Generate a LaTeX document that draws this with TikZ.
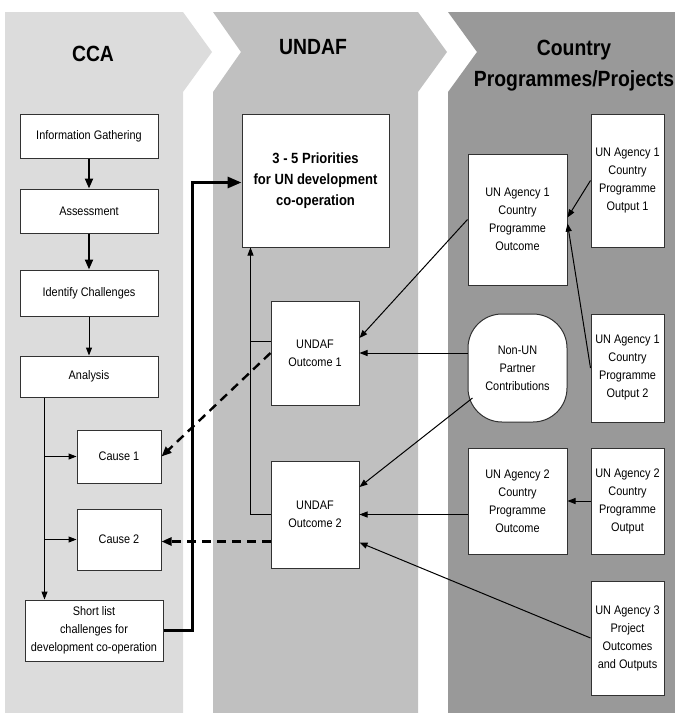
\documentclass[tikz,border=0pt]{standalone}
\usepackage{fontspec}
\setmainfont{Liberation Sans}[FakeStretch=0.88]
\usetikzlibrary{arrows.meta}
\definecolor{ccagray}{RGB}{220,220,220}
\definecolor{undgray}{RGB}{192,192,192}
\definecolor{ctygray}{RGB}{153,153,153}
\definecolor{boxline}{RGB}{50,50,50}
\begin{document}
\begin{tikzpicture}[x=1pt,y=-1pt,
  box/.style={draw=boxline,line width=1pt,fill=white,align=center,inner sep=1pt,
    font=\fontsize{12.4}{18}\selectfont},
  hdr/.style={font=\bfseries\fontsize{22}{31}\selectfont,align=center,inner sep=0pt},
  thinarr/.style={line width=1pt,-{Triangle[length=8pt,width=6pt]}},
  midarr/.style={line width=2pt,-{Triangle[length=10pt,width=8pt]}},
  bigarr/.style={line width=3pt,-{Triangle[length=14pt,width=11pt]}},
  dasharr/.style={line width=2.4pt,dash pattern=on 9pt off 6pt,-{Triangle[length=10pt,width=8pt]}},
  plainline/.style={line width=1pt}]
\useasboundingbox (0,0) rectangle (675,713);
% bands
\fill[ccagray] (5,12) -- (183,12) -- (212,52) -- (183,92) -- (183,713) -- (5,713) -- cycle;
\fill[undgray] (213,12) -- (418,12) -- (447,52) -- (418,92) -- (418,713) -- (213,713) -- (213,92) -- (241,52) -- cycle;
\fill[ctygray] (448,12) -- (675,12) -- (675,713) -- (448,713) -- (448,92) -- (477,52) -- cycle;
% headers
\node[hdr] (hcca) at (93,54) {CCA};
\node[hdr] (hund) at (313,47) {UNDAF};
\node[hdr] (hcty) at (574,66) {Country\\Programmes/Projects};
% CCA column
\node[box,minimum width=138pt,minimum height=44pt] (info) at (89,136) {Information Gathering};
\node[box,minimum width=138pt,minimum height=44pt] (assess) at (89,211) {Assessment};
\node[box,minimum width=138pt,minimum height=46pt] (ident) at (89,293) {Identify Challenges};
\node[box,minimum width=138pt,minimum height=41pt] (analysis) at (89,376.5) {Analysis};
\node[box,minimum width=84pt,minimum height=53pt] (cause1) at (119,456.5) {Cause 1};
\node[box,minimum width=84pt,minimum height=61pt] (cause2) at (119,539.5) {Cause 2};
\node[box,minimum width=138pt,minimum height=61pt] (short) at (94,630.5) {Short list\\challenges for\\development co-operation};
% UNDAF column
\node[box,minimum width=147pt,minimum height=133pt,font=\bfseries\fontsize{14.8}{21}\selectfont] (prio) at (315.5,180.5) {3 - 5 Priorities\\for UN development\\co-operation};
\node[box,minimum width=88pt,minimum height=104pt] (out1) at (315,353) {UNDAF\\Outcome 1};
\node[box,minimum width=88pt,minimum height=107pt] (out2) at (315,514.5) {UNDAF\\Outcome 2};
% Country column
\node[box,minimum width=99pt,minimum height=131pt] (a1out) at (517.5,219.5) {UN Agency 1\\Country\\Programme\\Outcome};
\node[box,minimum width=73pt,minimum height=133pt] (o1) at (627.5,180.5) {UN Agency 1\\Country\\Programme\\Output 1};
\node[box,minimum width=99pt,minimum height=108pt,rounded corners=34pt] (nonun) at (517.5,368) {Non-UN\\Partner\\Contributions};
\node[box,minimum width=73pt,minimum height=108pt] (o2) at (627.5,368) {UN Agency 1\\Country\\Programme\\Output 2};
\node[box,minimum width=99pt,minimum height=106pt] (a2out) at (517.5,501) {UN Agency 2\\Country\\Programme\\Outcome};
\node[box,minimum width=73pt,minimum height=106pt] (a2o) at (627.5,501) {UN Agency 2\\Country\\Programme\\Output};
\node[box,minimum width=73pt,minimum height=114pt] (a3) at (627.5,638) {UN Agency 3\\Project\\Outcomes\\and Outputs};
% CCA arrows
\draw[midarr] (info) -- (assess);
\draw[midarr] (assess) -- (ident);
\draw[thinarr] (ident) -- (analysis);
\coordinate (stem) at ([xshift=25pt]analysis.south west);
\draw[thinarr] (stem) -- (stem |- short.north);
\draw[thinarr] (stem |- cause1.west) -- (cause1.west);
\draw[thinarr] (stem |- cause2.west) -- (cause2.west);
\draw[bigarr] (short.east) -- ++(29,0) |- ([yshift=-2pt]prio.west);
% UNDAF feedback
\draw[thinarr] (out2.west) -| ([xshift=9pt]prio.south west);
\draw[plainline] ([yshift=12pt]out1.west) -- ++(-20,0);
\draw[dasharr] (out1.west) -- (cause1.east);
\coordinate (d2) at ([yshift=-27pt]out2.west);
\draw[dasharr] (d2) -- (d2 -| cause2.east);
% right side arrows
\draw[thinarr] (a1out.west) -- ([yshift=15pt]out1.east);
\draw[thinarr] (out1.east -| nonun.west) -- (out1.east);
\draw[thinarr] ([xshift=5pt,yshift=-30pt]nonun.west) -- ([yshift=27.5pt]out2.east);
\draw[thinarr] (out2.east -| a2out.west) -- (out2.east);
\draw[thinarr] (a3.west) -- ([yshift=-28pt]out2.east);
\draw[thinarr] (o1.west) -- ([yshift=2pt]a1out.east);
\draw[thinarr] (o2.west) -- ([yshift=-4pt]a1out.east);
\draw[thinarr] (a2o.west) -- (a2out.east);
\end{tikzpicture}
\end{document}
